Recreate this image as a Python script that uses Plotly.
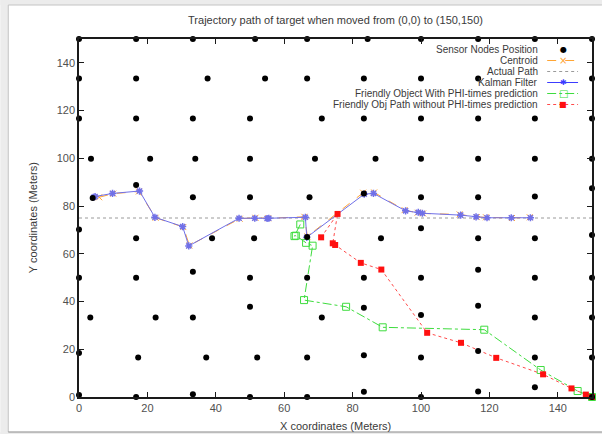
import plotly.graph_objects as go

# ---------------- data ----------------
sensor_x = [0, 16.7, 33.3, 51.5, 66.7, 84.4, 100, 116.7, 133.3, 150,
            0, 16.7, 37.6, 54.4, 66.7, 83.3, 100, 116.7, 150,
            0, 16.7, 33.3, 50, 71, 83.3, 100, 116.7, 133.3, 150,
            3.5, 20.8, 34, 50, 69, 86.7, 100, 116.7, 133.3, 150,
            4, 16.7, 33.3, 50, 67.4, 83.3, 100, 116.7, 133.3, 150,
            0, 16.7, 38.9, 51.2, 66.7, 88.3, 100, 116.7, 133.3, 150,
            0, 16.7, 33.3, 50, 66.7, 83.3, 100, 116.7, 133.3, 150,
            3.3, 22.4, 33.3, 50, 71, 83.3, 100, 116.7, 133.3, 150,
            0, 17.3, 37.2, 52.1, 66.7, 83.3, 100, 116.7, 133.3, 150,
            0, 16.7, 33.3, 50, 66.7, 83.3, 100, 116.7, 133.3, 150]
sensor_y = [150, 150, 150, 150, 150, 150, 150, 150, 150, 150,
            133.4, 133.4, 133.4, 133.4, 133.4, 133.4, 133.4, 133.4, 133.4,
            116.7, 116.7, 116.7, 116.7, 116.7, 116.7, 116.7, 116.7, 116.7, 116.7,
            99.8, 99.8, 99.8, 99.8, 99.8, 99.8, 99.8, 99.8, 99.8, 99.8,
            83.4, 88.8, 83.7, 83.7, 83.7, 85.3, 83.7, 83.7, 84, 87.5,
            70.2, 66.5, 66.5, 66.5, 67, 66.5, 70.7, 66.5, 66.5, 67.9,
            50, 50, 52.5, 50, 50, 50, 50, 53.3, 50, 50,
            33.3, 33.3, 33.3, 37.8, 33.3, 37.4, 34.4, 38.2, 33.3, 33.3,
            18.4, 16.6, 16.6, 16.6, 16.6, 17.5, 16.5, 19.3, 16.6, 16.6,
            0.8, 0, 1.1, 0, 0, 2.2, 0, 2.3, 4.1, 0]

centroid_x = [5.9, 10.0, 17.5, 22.4, 30.5, 32.3, 47.0, 51.6, 55.3, 65.9, 66.8,
              83.1, 86.3, 95.2, 99.0, 100.6, 111.3, 116.3, 119.0, 126.6, 131.8]
centroid_y = [83.7, 85.2, 86.1, 75.1, 71.2, 63.5, 74.7, 75.1, 74.9, 75.5, 67.3,
              85.6, 85.7, 78.3, 77.2, 76.9, 76.5, 75.4, 75.3, 75.0, 75.3]

actual_x = [0, 150]
actual_y = [75, 75]

kalman_x = [4.3, 4.7, 9.8, 17.7, 22.2, 30.3, 32.1, 46.8, 51.4, 55.0, 55.5, 66.2, 66.6,
            83.4, 86.1, 95.5, 99.2, 100.4, 111.6, 116.1, 119.3, 126.4, 132.0]
kalman_y = [83.7, 84.0, 85.3, 86.3, 75.3, 71.4, 63.3, 74.9, 74.9, 74.8, 74.9, 75.3, 66.9,
            85.0, 85.3, 78.0, 77.4, 77.0, 76.2, 75.5, 75.1, 75.1, 75.1]

phi_x = [64.7, 63.0, 63.4, 66.4, 68.3, 65.8, 78.1, 88.8, 118.5, 135.0, 145.8, 150.0]
phi_y = [72.3, 67.4, 67.6, 64.6, 63.4, 40.6, 37.8, 29.2, 28.2, 11.3, 2.5, 0.0]

nophi_x = [70.8, 75.6, 74.2, 74.9, 82.4, 88.4, 101.8, 111.7, 122.0, 135.7, 144.0, 148.2, 150.0]
nophi_y = [66.9, 76.7, 64.4, 63.7, 56.2, 53.4, 26.9, 22.7, 16.4, 9.5, 3.6, 1.0, 0.0]

tick_vals = [0, 20, 40, 60, 80, 100, 120, 140]

series_names = ["Sensor Nodes Position", "Centroid", "Actual Path", "Kalman Filter",
                "Friendly Object With PHI-times prediction",
                "Friendly Obj Path without PHI-times prediction"]

# ---------------- layout helpers ----------------
W, H = 604, 434
L, R, T, B = 79, 594, 39, 397


def px2x(px):
    return (px - L) / (R - L)


def py2y(py):
    return (B - py) / (B - T)


FONT = "Liberation Sans, Arial, Helvetica, sans-serif"
TXT = "#3a3a3a"

ORANGE = "#ffa534"
BLUE = "#3c3cff"
GREEN = "#3edc3e"
RED = "#ff1010"

fig = go.Figure()

fig.add_trace(go.Scatter(x=actual_x, y=actual_y, mode="lines", name=series_names[2],
                         line=dict(color="#9a9a9a", width=1, dash="dot")))
fig.add_trace(go.Scatter(x=centroid_x, y=centroid_y, mode="lines+markers", name=series_names[1],
                         line=dict(color=ORANGE, width=1, dash="dash"),
                         marker=dict(symbol="x-thin-open", size=6, line=dict(color=ORANGE, width=1))))
fig.add_trace(go.Scatter(x=kalman_x, y=kalman_y, mode="lines+markers", name=series_names[3],
                         line=dict(color="#7070e8", width=1),
                         marker=dict(symbol="asterisk-open", size=6, line=dict(color=BLUE, width=1.5))))
fig.add_trace(go.Scatter(x=phi_x, y=phi_y, mode="lines+markers", name=series_names[4],
                         cliponaxis=False,
                         line=dict(color=GREEN, width=1, dash="dashdot"),
                         marker=dict(symbol="square-open", size=7, line=dict(color=GREEN, width=1))))
fig.add_trace(go.Scatter(x=nophi_x, y=nophi_y, mode="lines+markers", name=series_names[5],
                         cliponaxis=False,
                         line=dict(color="#ff4a4a", width=1, dash="dot"),
                         marker=dict(symbol="square", size=6, color=RED)))
fig.add_trace(go.Scatter(x=sensor_x, y=sensor_y, mode="markers", name=series_names[0],
                         cliponaxis=False,
                         marker=dict(symbol="circle", size=6, color="black")))

axis_common = dict(range=[0, 150], tickvals=tick_vals, showline=True, mirror="ticks",
                   linecolor="#1a1a1a", linewidth=1.5, ticks="inside", ticklen=5,
                   tickcolor="#1a1a1a", tickwidth=1, showgrid=False, zeroline=False,
                   tickfont=dict(family=FONT, size=11, color="#505050"))

fig.update_layout(
    width=W, height=H,
    margin=dict(l=L, r=W - R, t=T, b=H - B),
    paper_bgcolor="white", plot_bgcolor="white",
    showlegend=False,
    xaxis=axis_common,
    yaxis=axis_common,
    title=dict(text="Trajectory path of target when moved from (0,0) to (150,150)",
               x=0.5, xref="paper", xanchor="center",
               y=1 - 20 / H, yref="container", yanchor="middle",
               font=dict(family=FONT, size=11, color=TXT)),
)

ann = []
ann.append(dict(text="X coordinates (Meters)", x=px2x(336), y=py2y(426), xref="paper", yref="paper",
                showarrow=False, xanchor="center", yanchor="middle",
                font=dict(family=FONT, size=11, color=TXT)))
ann.append(dict(text="Y coordinates (Meters)", x=px2x(33), y=py2y(218), xref="paper", yref="paper",
                showarrow=False, xanchor="center", yanchor="middle", textangle=-90,
                font=dict(family=FONT, size=11, color=TXT)))

# manual key (gnuplot style: text right-aligned, sample on the right)
key_rows = [49.5 + 11.0 * i for i in range(6)]
key_styles = [
    (None, None, "●", "black", 8),
    (ORANGE, "dash", "×", ORANGE, 10),
    ("#9a9a9a", "dot", None, None, None),
    (BLUE, "solid", "✱", BLUE, 8),
    (GREEN, "dashdot", "□", GREEN, 10),
    ("#ff4a4a", "dot", "■", RED, 8),
]
shapes = []
for name, py, (lc, ld, glyph, gc, gs) in zip(series_names, key_rows, key_styles):
    ann.append(dict(text=name, x=px2x(541), y=py2y(py), xref="paper", yref="paper",
                    showarrow=False, xanchor="right", yanchor="middle", borderpad=0,
                    font=dict(family=FONT, size=10, color=TXT)))
    if lc is not None:
        shapes.append(dict(type="line", xref="paper", yref="paper",
                           x0=px2x(549), x1=px2x(580), y0=py2y(py), y1=py2y(py),
                           line=dict(color=lc, width=1, dash=ld)))
    if glyph is not None:
        ann.append(dict(text=glyph, x=px2x(565), y=py2y(py), xref="paper", yref="paper",
                        showarrow=False, xanchor="center", yanchor="middle", borderpad=0,
                        font=dict(family="DejaVu Sans", size=gs, color=gc)))

# screenshot-style frame
frame_fill = "#ececec"
shapes += [
    dict(type="rect", xref="paper", yref="paper", x0=px2x(0), x1=px2x(8), y0=py2y(434), y1=py2y(0),
         fillcolor=frame_fill, line=dict(width=0), layer="above"),
    dict(type="rect", xref="paper", yref="paper", x0=px2x(0), x1=px2x(604), y0=py2y(5), y1=py2y(0),
         fillcolor=frame_fill, line=dict(width=0), layer="above"),
    dict(type="rect", xref="paper", yref="paper", x0=px2x(0), x1=px2x(604), y0=py2y(434), y1=py2y(432),
         fillcolor=frame_fill, line=dict(width=0), layer="above"),
    dict(type="line", xref="paper", yref="paper", x0=px2x(8), x1=px2x(8), y0=py2y(432), y1=py2y(5),
         line=dict(color="#c4c4c4", width=1)),
    dict(type="line", xref="paper", yref="paper", x0=px2x(8), x1=px2x(604), y0=py2y(5), y1=py2y(5),
         line=dict(color="#c4c4c4", width=1)),
    dict(type="line", xref="paper", yref="paper", x0=px2x(8), x1=px2x(604), y0=py2y(432), y1=py2y(432),
         line=dict(color="#8a8a8a", width=1.2)),
]

fig.update_layout(annotations=ann, shapes=shapes)
fig.write_html("out.html")
